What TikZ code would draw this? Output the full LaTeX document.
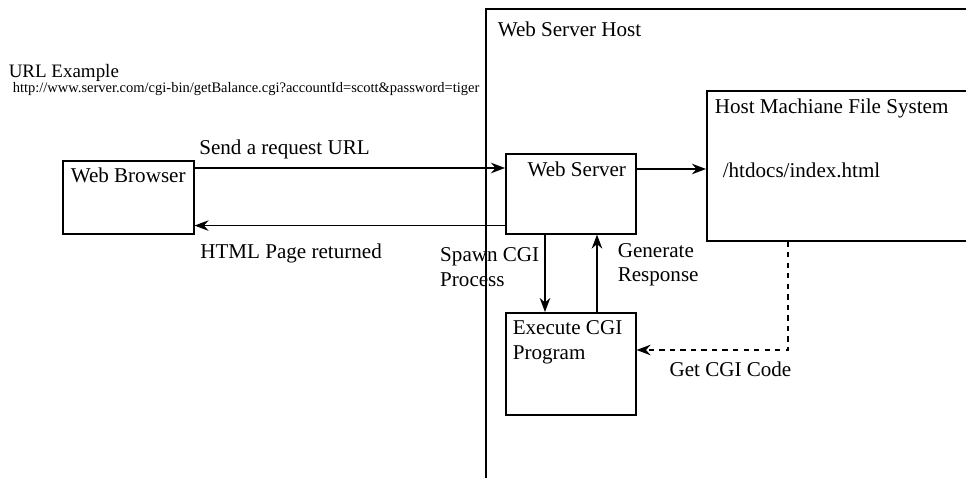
\documentclass[tikz,border=0pt]{standalone}
\usepackage{fontspec}
\setmainfont{Liberation Serif}
\usetikzlibrary{arrows.meta,positioning,calc}

\begin{document}
\begin{tikzpicture}[x=0.02cm,y=-0.02cm,>={Stealth[length=8pt,width=6pt]},line width=0.9pt,
  font=\fontsize{12}{14}\selectfont,
  box/.style={draw,inner sep=0pt,anchor=north west},
  txt/.style={inner sep=0pt,align=left}]
\useasboundingbox (0,0) rectangle (966,477);
% containers and boxes
\node[box,minimum width=9.9cm,minimum height=9.64cm] (host) at (485,8) {};
\node[box,minimum width=2.62cm,minimum height=1.46cm] (wb) at (62,160) {};
\node[box,minimum width=2.6cm,minimum height=1.6cm] (ws) at (505,153) {};
\node[box,minimum width=2.6cm,minimum height=2.04cm] (ex) at (505,312) {};
\node[box,minimum width=5.48cm,minimum height=3cm] (fs) at (706,90) {};
% box texts
\node[txt,anchor=north west] (hostlbl) at ([shift={(2.4mm,-2.6mm)}]host.north west) {Web Server Host};
\node[txt,anchor=north west] (wblbl) at ([shift={(1.6mm,-1.4mm)}]wb.north west) {Web Browser};
\node[txt,anchor=north] (wslbl) at ([shift={(1.2mm,-1.6mm)}]ws.north) {Web Server};
\node[txt,anchor=north west] (exlbl) at ([shift={(1.4mm,-1.6mm)}]ex.north west) {Execute CGI\\Program};
\node[txt,anchor=north west] (fslbl) at ([shift={(1.6mm,-1.6mm)}]fs.north west) {Host Machiane File System};
\node[txt,anchor=west] (fspath) at ([shift={(3.2mm,-1.6cm)}]fs.north west) {/htdocs/index.html};
% url example
\node[txt,anchor=west,font=\fontsize{10.8}{12}\selectfont] (urlhead) at (8,73) {URL Example};
\node[txt,anchor=west,font=\fontsize{8.25}{9}\selectfont] (url) at (12,89) {http://www.server.com/cgi-bin/getBalance.cgi?accountId=scott\&password=tiger};
% connectors
\draw[->] ([yshift=-1.6mm]wb.north east) -- node[pos=0,anchor=south west,txt,xshift=0.8mm,yshift=1.6mm] (reqlbl) {Send a request URL} ([yshift=-1.6mm]wb.north east -| ws.west);
\draw[->] ([yshift=1.8mm]ws.south west) -- node[pos=1,anchor=north west,txt,xshift=1mm,yshift=-3.6mm] (retlbl) {HTML Page returned} ([yshift=1.8mm]ws.south west -| wb.east);
\draw[->] ([yshift=-3.2mm]ws.north east) -- ([yshift=-3.2mm]ws.north east -| fs.west);
\draw[->] ([xshift=8mm]ws.south west) -- node[pos=0.42,anchor=east,txt,xshift=-1mm] (spawnlbl) {Spawn CGI\\Process} ([xshift=8mm]ws.south west |- ex.north);
\draw[->] ([xshift=18.4mm]ex.north west) -- node[pos=0.61,anchor=west,txt,xshift=4mm] (genlbl) {Generate\\Response} ([xshift=18.4mm]ex.north west |- ws.south);
\draw[->,dashed] ([xshift=16.4mm]fs.south west) |- node[pos=0.69,anchor=north,txt,yshift=-2.2mm] (getlbl) {Get CGI Code} ([yshift=-7.6mm]ex.north east);
\end{tikzpicture}
\end{document}
